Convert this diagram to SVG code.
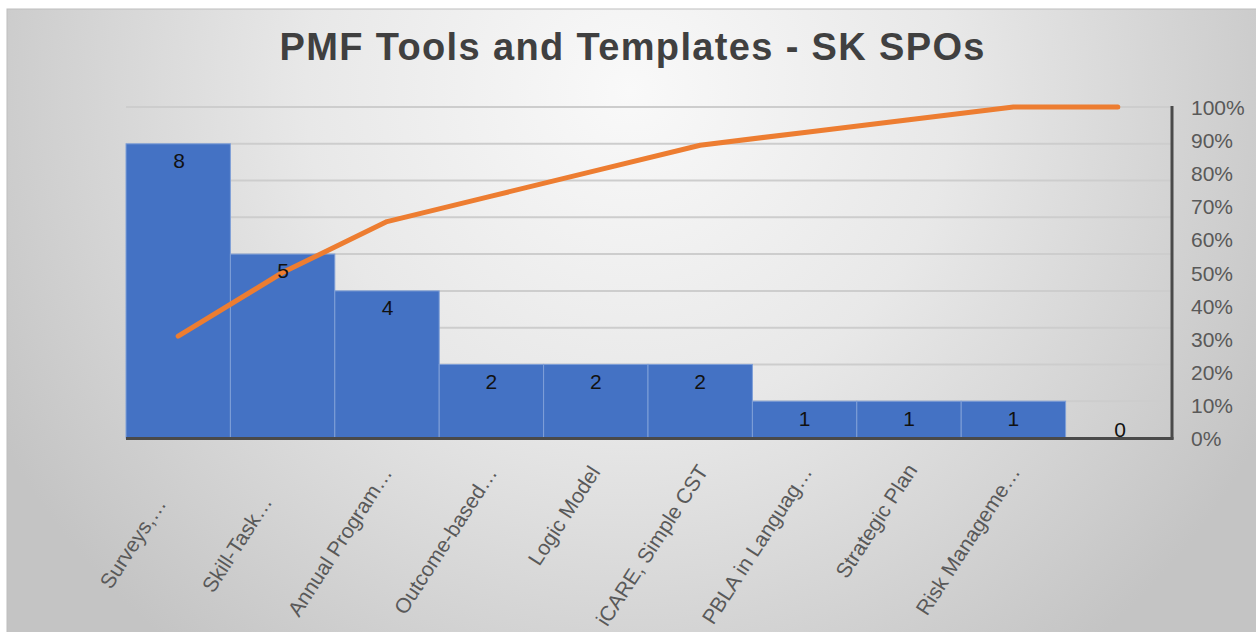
<svg xmlns="http://www.w3.org/2000/svg" width="1256" height="632" viewBox="0 0 1256 632">
  <defs>
    <radialGradient id="bg" gradientUnits="userSpaceOnUse" cx="630" cy="90" r="720">
      <stop offset="0" stop-color="#f9f9f9"/>
      <stop offset="0.45" stop-color="#e8e8e8"/>
      <stop offset="1" stop-color="#c4c4c4"/>
    </radialGradient>
    <style>
      .grid { stroke: #cdcdcd; stroke-width: 2; }
      .bar { fill: #4472C4; stroke: #7f9fd8; stroke-width: 1; }
      .val { font-family: "Liberation Sans", Arial, sans-serif; font-size: 21px; fill: #111111; text-anchor: middle; }
      .pct { font-family: "Liberation Sans", Arial, sans-serif; font-size: 21px; fill: #595959; }
      .cat { font-family: "Liberation Sans", Arial, sans-serif; font-size: 21px; fill: #595959; text-anchor: end; }
      .title { font-family: "Liberation Sans", Arial, sans-serif; font-size: 38px; font-weight: bold; fill: #404040; text-anchor: middle; }
      .axis { stroke: #4a4a4a; stroke-width: 3; fill: none; }
      .cum { stroke: #ED7D31; stroke-width: 5; fill: none; stroke-linecap: round; stroke-linejoin: round; }
    </style>
  </defs>

  <rect x="0" y="0" width="1256" height="632" fill="#ffffff"/>
  <rect x="7" y="9" width="1250" height="624" fill="url(#bg)" stroke="#bdbdbd" stroke-width="1"/>

  <g id="title">
    <text class="title" x="632" y="60" textLength="705" lengthAdjust="spacing">PMF Tools and Templates - SK SPOs</text>
  </g>

  <g id="gridlines">
    <line class="grid" x1="126" y1="107" x2="1171" y2="107"/>
    <line class="grid" x1="126" y1="143.8" x2="1171" y2="143.8"/>
    <line class="grid" x1="126" y1="180.6" x2="1171" y2="180.6"/>
    <line class="grid" x1="126" y1="217.3" x2="1171" y2="217.3"/>
    <line class="grid" x1="126" y1="254.1" x2="1171" y2="254.1"/>
    <line class="grid" x1="126" y1="290.9" x2="1171" y2="290.9"/>
    <line class="grid" x1="126" y1="327.7" x2="1171" y2="327.7"/>
    <line class="grid" x1="126" y1="364.4" x2="1171" y2="364.4"/>
    <line class="grid" x1="126" y1="401.2" x2="1171" y2="401.2"/>
  </g>

  <g id="bars">
    <rect class="bar" x="126" y="143.8" width="104.4" height="294.2"/>
    <rect class="bar" x="230.4" y="254.1" width="104.4" height="183.9"/>
    <rect class="bar" x="334.8" y="290.9" width="104.4" height="147.1"/>
    <rect class="bar" x="439.2" y="364.4" width="104.4" height="73.6"/>
    <rect class="bar" x="543.6" y="364.4" width="104.4" height="73.6"/>
    <rect class="bar" x="648" y="364.4" width="104.4" height="73.6"/>
    <rect class="bar" x="752.4" y="401.2" width="104.4" height="36.8"/>
    <rect class="bar" x="856.8" y="401.2" width="104.4" height="36.8"/>
    <rect class="bar" x="961.2" y="401.2" width="104.4" height="36.8"/>
  </g>

  <g id="axes">
    <line class="axis" x1="1172" y1="106" x2="1172" y2="439.5"/>
    <line class="axis" x1="126" y1="438.5" x2="1173.5" y2="438.5"/>
  </g>

  <g id="cumulative-line">
    <polyline class="cum" points="178.2,336.2 282.6,272.5 387,221.6 491.4,196.1 595.8,170.6 700.2,145.2 804.6,132.4 909,119.7 1013.4,107 1117.8,107"/>
  </g>

  <g id="data-labels">
    <text class="val" x="179" y="168">8</text>
    <text class="val" x="283" y="278">5</text>
    <text class="val" x="387.5" y="315">4</text>
    <text class="val" x="491.4" y="389">2</text>
    <text class="val" x="595.8" y="389">2</text>
    <text class="val" x="700.2" y="389">2</text>
    <text class="val" x="804.6" y="426">1</text>
    <text class="val" x="909" y="426">1</text>
    <text class="val" x="1013.4" y="426">1</text>
    <text class="val" x="1120" y="437">0</text>
  </g>

  <g id="right-axis-labels">
    <text class="pct" x="1191" y="115">100%</text>
    <text class="pct" x="1191" y="148.1">90%</text>
    <text class="pct" x="1191" y="181.2">80%</text>
    <text class="pct" x="1191" y="214.3">70%</text>
    <text class="pct" x="1191" y="247.4">60%</text>
    <text class="pct" x="1191" y="280.5">50%</text>
    <text class="pct" x="1191" y="313.6">40%</text>
    <text class="pct" x="1191" y="346.7">30%</text>
    <text class="pct" x="1191" y="379.8">20%</text>
    <text class="pct" x="1191" y="412.9">10%</text>
    <text class="pct" x="1191" y="446">0%</text>
  </g>

  <g id="category-labels">
    <text class="cat" transform="translate(167,504) rotate(-57)">Surveys,…</text>
    <text class="cat" transform="translate(273,502) rotate(-57)">Skill-Task…</text>
    <text class="cat" transform="translate(393,473) rotate(-57)">Annual Program…</text>
    <text class="cat" transform="translate(498,473) rotate(-57)">Outcome-based…</text>
    <text class="cat" transform="translate(601,472) rotate(-57)">Logic Model</text>
    <text class="cat" transform="translate(709,471) rotate(-57)">iCARE, Simple CST</text>
    <text class="cat" transform="translate(813,472) rotate(-57)">PBLA in Languag…</text>
    <text class="cat" transform="translate(918,470) rotate(-57)">Strategic Plan</text>
    <text class="cat" transform="translate(1021,472) rotate(-57)">Risk Manageme…</text>
  </g>
</svg>
